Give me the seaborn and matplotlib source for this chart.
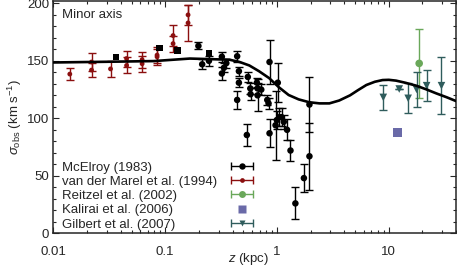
import numpy as np
import pandas as pd
import matplotlib
matplotlib.use("Agg")
import matplotlib.pyplot as plt
import seaborn as sns
from matplotlib.ticker import MultipleLocator, LogLocator, NullFormatter, FixedLocator, FixedFormatter
from matplotlib.legend_handler import HandlerErrorbar
from matplotlib.lines import Line2D

# ---- data ----
# McElroy (1983) circles
mce_z = [0.198, 0.214, 0.246, 0.321, 0.321, 0.335, 0.352, 0.44, 0.456, 0.456, 0.44,
         0.548, 0.577, 0.58, 0.66, 0.67, 0.67, 0.723, 0.818, 0.84, 0.857, 0.857,
         1.016, 0.97, 0.996, 1.05, 1.10, 1.15, 1.23, 1.32, 1.46, 1.74, 1.95, 1.95, 0.537]
mce_s = [163, 147, 150, 153.6, 139, 144, 148, 154, 141, 131, 116,
         136, 126, 121, 131, 126, 120, 125, 116, 113, 149, 87,
         131, 94, 98.5, 101, 101, 97, 90, 72, 26, 48, 112, 67, 85.5]
mce_e = [3, 4.5, 4.5, 4.5, 5.5, 4, 4, 4.7, 4, 4, 8,
         4, 5, 5, 4, 5, 14, 5, 4, 5, 19, 12,
         17, 30, 8, 8, 8, 6, 9, 9.5, 14, 12, 24, 29, 9.5]
# McElroy squares
msq_z = [0.0364, 0.089, 0.1286, 0.246]
msq_s = [153.6, 161, 159, 156.5]
# van der Marel et al. (1994)
vdm_z = [0.014, 0.0219, 0.0219, 0.0324, 0.0451, 0.0451, 0.0621, 0.0621,
         0.0845, 0.0845, 0.1175, 0.1175, 0.160, 0.160]
vdm_s = [138.5, 149, 142, 143, 152, 146, 151, 147.5, 155, 153.5, 172, 165, 190, 183]
vdm_e = [5.5, 7.6, 6, 7, 7, 7, 7, 7, 7, 7, 9, 7, 9, 16]
# Reitzel et al. (2002)
rei_z = [18.7]
rei_s = [147.8]
rei_e = [30]
# Kalirai et al. (2006)
kal_z = [12.0]
kal_s = [87.8]
# Gilbert et al. (2007)
gil_z = [8.93, 12.4, 14.9, 17.7, 21.8, 29.6]
gil_s = [118.2, 125.5, 117.4, 125.2, 128.4, 128.4]
gil_e = [11, 0, 13, 15, 13.7, 25]
# model curve
mod_z = [0.01, 0.03, 0.0789, 0.166, 0.376, 0.463, 0.565, 0.69, 0.85, 1.04, 1.27, 1.56,
         1.94, 2.4, 2.94, 3.6, 4.5, 5.3, 6.3, 7.5, 8.8, 10.0, 11.6, 14.0, 17.6, 21.5,
         26.6, 33.0, 40.0]
mod_s = [148.6, 149.2, 149.8, 152, 151, 149, 146, 141, 135, 127, 120.3, 116.5,
         114, 113, 113, 115.5, 120, 124.5, 129, 131.8, 133.3, 133.5, 132.8, 131, 128.4, 125.3,
         121.7, 118.3, 115]
labels = ['McElroy (1983)', 'van der Marel et al. (1994)', 'Reitzel et al. (2002)',
          'Kalirai et al. (2006)', 'Gilbert et al. (2007)']

# ---- style ----
sns.set_style("ticks")
plt.rcParams['font.family'] = ['Liberation Sans', 'DejaVu Sans']
plt.rcParams['mathtext.fontset'] = 'custom'
plt.rcParams['mathtext.rm'] = 'Liberation Sans'
plt.rcParams['mathtext.it'] = 'Liberation Sans:italic'
plt.rcParams['mathtext.bf'] = 'Liberation Sans:bold'
plt.rcParams['font.size'] = 9

fig = plt.figure(figsize=(4.57, 2.70), dpi=100)
ax = fig.add_axes([0.117, 0.136, 0.881, 0.860])

RED = '#8b0f0f'
RED_C = '#b85050'
GREEN = '#6aa85a'
GREEN_C = '#9cc890'
PURPLE = '#6a6aa8'
TEAL = '#2f5c5c'
TEAL_C = '#7fa0a0'
BLACK = '#000000'
BLACK_C = '#555555'

def errbars(x, y, e, color, capcolor):
    c = ax.errorbar(x, y, yerr=e, fmt='none', ecolor=color, elinewidth=1.0,
                    capsize=2.6, capthick=1.0, zorder=2)
    for cl in c[1]:
        cl.set_color(capcolor)

# model curve
sns.lineplot(x=mod_z, y=mod_s, ax=ax, color='black', lw=1.9, zorder=4, sort=False)

# McElroy
errbars(mce_z, mce_s, mce_e, BLACK, BLACK_C)
sns.scatterplot(x=mce_z, y=mce_s, ax=ax, color=BLACK, marker='o', s=22, edgecolor='none', zorder=3)
sns.scatterplot(x=msq_z, y=msq_s, ax=ax, color=BLACK, marker='s', s=20, edgecolor='none', zorder=3)
# van der Marel
errbars(vdm_z, vdm_s, vdm_e, RED, RED_C)
sns.scatterplot(x=vdm_z, y=vdm_s, ax=ax, color=RED, marker='o', s=12, edgecolor='none', zorder=3)
# Reitzel
errbars(rei_z, rei_s, rei_e, GREEN, GREEN_C)
sns.scatterplot(x=rei_z, y=rei_s, ax=ax, color=GREEN, marker='o', s=30, edgecolor='none', zorder=3)
# Kalirai
sns.scatterplot(x=kal_z, y=kal_s, ax=ax, color=PURPLE, marker='s', s=38, edgecolor='none', zorder=3)
# Gilbert
errbars(gil_z, gil_s, gil_e, TEAL, TEAL_C)
sns.scatterplot(x=gil_z, y=gil_s, ax=ax, color=TEAL, marker='v', s=30, edgecolor='none', zorder=3)

ax.set_xscale('log')
ax.set_xlim(0.01, 40)
ax.set_ylim(0, 202)
ax.xaxis.set_major_locator(FixedLocator([0.01, 0.1, 1, 10]))
ax.xaxis.set_major_formatter(FixedFormatter(['0.01', '0.1', '1', '10']))
ax.xaxis.set_minor_locator(LogLocator(base=10, subs=np.arange(2, 10), numticks=20))
ax.xaxis.set_minor_formatter(NullFormatter())
ax.yaxis.set_major_locator(MultipleLocator(50))
ax.yaxis.set_minor_locator(MultipleLocator(10))
ax.tick_params(which='both', direction='in', top=True, right=True, labelsize=9.5, width=0.8)
ax.tick_params(axis='y', pad=3)
ax.tick_params(axis='x', which='major', pad=9.3)
ax.tick_params(which='major', length=4)
ax.tick_params(which='minor', length=2.2)
for sp in ax.spines.values():
    sp.set_linewidth(1.1)
    sp.set_visible(True)

ax.set_xlabel(r'$z$ (kpc)', fontsize=9.5, va='top')
ax.xaxis.set_label_coords(0.484, -0.078)
ax.set_ylabel(r'$\sigma_{\rm obs}$ (km s$^{-1}$)', fontsize=9.5, labelpad=2)
ax.text(0.02, 0.965, 'Minor axis', transform=ax.transAxes, fontsize=9.5, va='top', ha='left')

# legend
def leg_eb(color, capcolor, marker, ms):
    c = ax.errorbar([np.nan], [np.nan], xerr=[1], fmt=marker, color=color, ms=ms,
                    ecolor=color, elinewidth=1.0, capsize=2.6, capthick=1.0, mec='none')
    for cl in c[1]:
        cl.set_color(capcolor)
    return c

h1 = leg_eb(BLACK, BLACK_C, 'o', 4.6)
h2 = leg_eb(RED, RED_C, 'o', 3.4)
h3 = leg_eb(GREEN, GREEN_C, 'o', 5.0)
h4 = Line2D([], [], ls='none', marker='s', color=PURPLE, ms=5.5, mec='none')
h5 = leg_eb(TEAL, TEAL_C, 'v', 5.0)
leg = ax.legend([h1, h2, h3, h4, h5], labels, loc='lower left', bbox_to_anchor=(0.0146, 0.0),
                frameon=False, markerfirst=False, fontsize=9.5, labelspacing=0.155,
                handlelength=2.0, handletextpad=0.9, borderaxespad=0.0, borderpad=0.2,
                handler_map={type(h1): HandlerErrorbar(xerr_size=0.85)})
# left-align texts while keeping handles in one column
for col in leg._legend_handle_box.get_children():
    for row in col.get_children():
        row.mode = 'expand'
        row.width = 193

fig.savefig('out.png', dpi=100)
